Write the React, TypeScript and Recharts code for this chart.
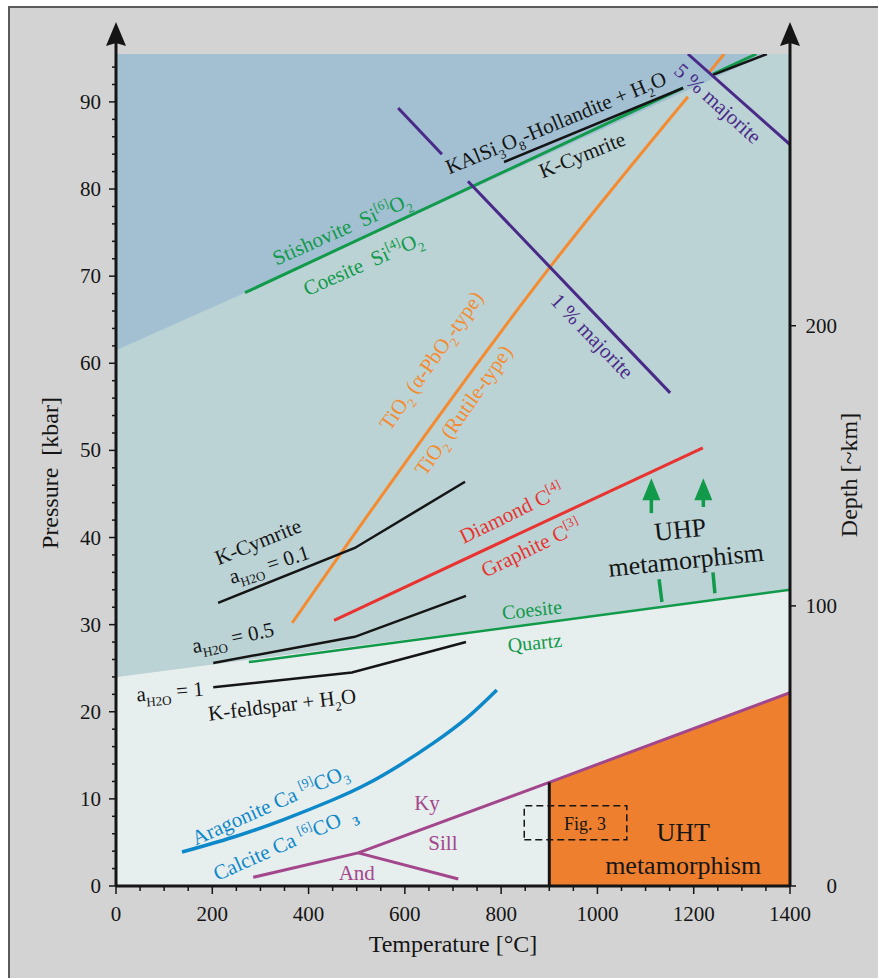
import React from "react";
import {
  ComposedChart,
  XAxis,
  YAxis,
  Line,
  Area,
  ReferenceDot,
  ReferenceLine,
  Label,
} from "recharts";

type Pt = [number, number | null];

const FONT = '"Liberation Serif", "Times New Roman", serif';

const P_TOP = 95.5; // kbar at the upper frame edge
const DEPTH_TOP = 297; // ~km at the upper frame edge

const T_TICKS = [
  0, 50, 100, 150, 200, 250, 300, 350, 400, 450, 500, 550, 600, 650, 700, 750, 800, 850, 900,
  950, 1000, 1050, 1100, 1150, 1200, 1250, 1300, 1350, 1400,
];
const P_TICKS = Array.from({ length: 48 }, (_, i) => i * 2);
const DEPTH_TICKS = [0, 100, 200];

// phase boundaries as [T °C, P kbar]; null leaves a gap where a label sits on the line
const stishoviteCoesite: Pt[] = [[268, 68.1], [1178, 91.6], [1205, null], [1240, 93.2], [1330, 95.5]];
const hollanditeCymrite: Pt[] = [[806, 83.1], [1178, 91.6], [1205, null], [1240, 93.1], [1352, 95.5]];
const tio2: Pt[] = [[366, 30.2], [575, 46.6], [901, 71.0], [1188, 90.6], [1210, null], [1234, 93.5], [1263, 95.5]];
const majorite1: Pt[] = [[586, 89.3], [677, 84.0], [700, null], [731, 80.9], [1151, 56.6]];
const majorite5: Pt[] = [[1188, 95.5], [1400, 85.1]];
const kCymrite01: Pt[] = [[212, 32.5], [496, 38.8], [725, 46.4]];
const kCymrite05: Pt[] = [[202, 25.6], [496, 28.6], [727, 33.3]];
const kCymrite1: Pt[] = [[202, 22.8], [490, 24.5], [727, 28.0]];
const coesiteQuartz: Pt[] = [[276, 25.7], [1400, 34.0]];
const diamondGraphite: Pt[] = [[453, 30.5], [1219, 50.3]];
const aragoniteCalcite: Pt[] = [
  [137, 3.9], [243, 5.6], [347, 7.6], [451, 9.9], [521, 11.7], [590, 13.9], [659, 16.4], [729, 19.3], [791, 22.5],
];
const kySill: Pt[] = [[503, 3.8], [900, 11.9], [1400, 22.2]];
const andKy: Pt[] = [[285, 1.0], [503, 3.8]];
const andSill: Pt[] = [[503, 3.8], [711, 0.8]];
const uhtLimit: Pt[] = [[900, 0], [900, 11.9]];
const fig3Box: Pt[] = [[848, 5.3], [1061, 5.3], [1061, 9.2], [848, 9.2], [848, 5.3]];

// shaded fields: [T, lower P, upper P]
const lowField: [number, number, number][] = [[0, 0, 24.0], [1400, 0, 34.0]];
const coesiteField: [number, number, number][] = [[0, 24.0, P_TOP], [1400, 34.0, P_TOP]];
const stishoviteField: [number, number, number][] = [[0, 61.5, P_TOP], [268, 68.1, P_TOP], [1352, P_TOP, P_TOP]];
const uhtField: [number, number, number][] = [[900, 0, 11.9], [1400, 0, 22.2]];

// UHP arrows: [T, tip P, tail P] and dashes below them
const uhpArrows = [[1112, 46.8, 42.8], [1220, 46.8, 43.5]];
const uhpDashes = [
  [[1128, 35.2], [1134, 32.6]],
  [[1240, 36.0], [1244, 33.6]],
];

const C = {
  blue: "#a2c0d2",
  teal: "#bbd3d5",
  light: "#e7eeee",
  frame: "#d3d3d3",
  uht: "#ee7f2e",
  green: "#119a4a",
  orange: "#f48b30",
  purple: "#4a2a88",
  red: "#e83330",
  calc: "#0d88c8",
  mag: "#a3478c",
  ink: "#151515",
};

type Part = [string, "" | "sub" | "sup" | "subb"];
type Note = { T: number; P: number; rot: number; color: string; size: number; parts: Part[] };

const notes: Note[] = [
  { T: 469, P: 75.4, rot: -24, color: C.green, size: 21, parts: [["Stishovite  Si", ""], ["[6]", "sup"], ["O", ""], ["2", "sub"]] },
  { T: 513, P: 71.4, rot: -24, color: C.green, size: 21, parts: [["Coesite  Si", ""], ["[4]", "sup"], ["O", ""], ["2", "sub"]] },
  { T: 914, P: 87.6, rot: -22.5, color: C.ink, size: 21, parts: [["KAlSi", ""], ["3", "sub"], ["O", ""], ["8", "sub"], ["-Hollandite + H", ""], ["2", "sub"], ["O", ""]] },
  { T: 968, P: 83.9, rot: -22, color: C.ink, size: 21, parts: [["K-Cymrite", ""]] },
  { T: 1250, P: 89.8, rot: 42, color: C.purple, size: 21, parts: [["5 % majorite", ""]] },
  { T: 989, P: 63.1, rot: 46, color: C.purple, size: 21, parts: [["1 % majorite", ""]] },
  { T: 655, P: 60.3, rot: -55, color: C.orange, size: 21, parts: [["TiO", ""], ["2", "sub"], [" (\u03b1-PbO", ""], ["2", "sub"], ["-type)", ""]] },
  { T: 722, P: 54.6, rot: -55, color: C.orange, size: 21, parts: [["TiO", ""], ["2", "sub"], [" (Rutile-type)", ""]] },
  { T: 295, P: 39.5, rot: -22, color: C.ink, size: 21, parts: [["K-Cymrite", ""]] },
  { T: 318, P: 36.9, rot: -18, color: C.ink, size: 21, parts: [["a", ""], ["H2O", "sub"], [" = 0.1", ""]] },
  { T: 243, P: 28.5, rot: -12, color: C.ink, size: 21, parts: [["a", ""], ["H2O", "sub"], [" = 0.5", ""]] },
  { T: 112, P: 22.3, rot: -5, color: C.ink, size: 21, parts: [["a", ""], ["H2O", "sub"], [" = 1", ""]] },
  { T: 345, P: 20.8, rot: -7, color: C.ink, size: 21, parts: [["K-feldspar + H", ""], ["2", "sub"], ["O", ""]] },
  { T: 821, P: 42.8, rot: -26, color: C.red, size: 21, parts: [["Diamond C", ""], ["[4]", "sup"]] },
  { T: 862, P: 38.8, rot: -26, color: C.red, size: 21, parts: [["Graphite C", ""], ["[3]", "sup"]] },
  { T: 864, P: 31.7, rot: -6, color: C.green, size: 20, parts: [["Coesite", ""]] },
  { T: 870, P: 27.9, rot: -6, color: C.green, size: 20, parts: [["Quartz", ""]] },
  { T: 1172, P: 40.9, rot: -6, color: C.ink, size: 26, parts: [["UHP", ""]] },
  { T: 1184, P: 37.4, rot: -6, color: C.ink, size: 26, parts: [["metamorphism", ""]] },
  { T: 320, P: 9.3, rot: -24, color: C.calc, size: 21, parts: [["Aragonite Ca ", ""], ["[9]", "sup"], ["CO", ""], ["3", "sub"]] },
  { T: 351, P: 4.9, rot: -24, color: C.calc, size: 21, parts: [["Calcite Ca ", ""], ["[6]", "sup"], ["CO  ", ""], ["3", "subb"]] },
  { T: 646, P: 9.5, rot: 0, color: C.mag, size: 21, parts: [["Ky", ""]] },
  { T: 679, P: 4.9, rot: 0, color: C.mag, size: 21, parts: [["Sill", ""]] },
  { T: 500, P: 1.5, rot: 0, color: C.mag, size: 21, parts: [["And", ""]] },
  { T: 1178, P: 6.1, rot: 0, color: C.ink, size: 26, parts: [["UHT", ""]] },
  { T: 1178, P: 2.4, rot: 0, color: C.ink, size: 26, parts: [["metamorphism", ""]] },
  { T: 974, P: 7.1, rot: 0, color: C.ink, size: 18, parts: [["Fig. 3", ""]] },
];

const pts = (a: Pt[]) => a.map(([T, P]) => ({ T, P }));
const band = (a: [number, number, number][]) => a.map(([T, lo, hi]) => ({ T, r: [lo, hi] }));

function RichText({ cx, cy, note }: { cx: number; cy: number; note: Note }) {
  const { size } = note;
  const small = Math.round(size * 0.62);
  let shift = 0;
  const spans = note.parts.map(([s, k], i) => {
    const target = k === "sub" || k === "subb" ? size * 0.28 : k === "sup" ? -size * 0.4 : 0;
    const dy = target - shift;
    shift = target;
    return (
      <tspan key={i} dy={dy} fontSize={k ? small : size} fontWeight={k === "subb" ? "bold" : undefined}>
        {s}
      </tspan>
    );
  });
  return (
    <text
      x={cx}
      y={cy + size * 0.33}
      transform={note.rot ? `rotate(${note.rot} ${cx} ${cy})` : undefined}
      textAnchor="middle"
      fill={note.color}
      fontFamily={FONT}
      style={{ whiteSpace: "pre" }}
    >
      {spans}
    </text>
  );
}

function PTick({ x, y, payload }: any) {
  const v = payload.value;
  const major = v % 10 === 0;
  return (
    <g>
      <line x1={x - (major ? 7 : 4)} x2={x} y1={y} y2={y} stroke={C.ink} strokeWidth={1.5} />
      {major && (
        <text x={x - 15} y={y + 7} textAnchor="end" fontSize={21} fontFamily={FONT} fill={C.ink}>
          {v}
        </text>
      )}
    </g>
  );
}

function TTick({ x, y, payload }: any) {
  const v = payload.value;
  const major = v % 200 === 0;
  return (
    <g>
      <line x1={x} x2={x} y1={y} y2={y + (major ? 8 : 5)} stroke={C.ink} strokeWidth={1.5} />
      {major && (
        <text x={x} y={y + 35} textAnchor="middle" fontSize={21} fontFamily={FONT} fill={C.ink}>
          {v}
        </text>
      )}
    </g>
  );
}

function DepthTick({ x, y, payload }: any) {
  return (
    <g>
      <line x1={x} x2={x + 6} y1={y} y2={y} stroke={C.ink} strokeWidth={1.5} />
      <text x={x + 47} y={y + 7} textAnchor="end" fontSize={21} fontFamily={FONT} fill={C.ink}>
        {payload.value}
      </text>
    </g>
  );
}

const axisArrow = ({ cx, cy }: any) => (
  <g>
    <line x1={cx} x2={cx} y1={cy} y2={cy - 14} stroke={C.ink} strokeWidth={3} />
    <path d={`M${cx} ${cy - 32} L${cx + 10} ${cy - 8} L${cx} ${cy - 11} L${cx - 10} ${cy - 8} Z`} fill={C.ink} />
  </g>
);

const arrowHead = ({ cx, cy }: any) => (
  <path d={`M${cx} ${cy} L${cx + 9} ${cy + 22} L${cx - 9} ${cy + 22} Z`} fill={C.green} />
);

const title = (text: string, dx: number, dy: number, rot: number, anchor: "side" | "bottom") =>
  ({ viewBox }: any) => {
    const x = anchor === "bottom" ? viewBox.x + viewBox.width / 2 + dx : viewBox.x + dx;
    const y = anchor === "bottom" ? viewBox.y + dy : viewBox.y + viewBox.height / 2 + dy;
    return (
      <text
        x={x}
        y={y}
        transform={rot ? `rotate(${rot} ${x} ${y})` : undefined}
        textAnchor="middle"
        fontSize={24}
        fontFamily={FONT}
        fill={C.ink}
        style={{ whiteSpace: "pre" }}
      >
        {text}
      </text>
    );
  };

const lines: { d: Pt[]; c: string; w?: number; dash?: string; type?: "linear" | "monotone" | "natural" }[] = [
  { d: stishoviteCoesite, c: C.green },
  { d: hollanditeCymrite, c: C.ink, w: 2.5 },
  { d: tio2, c: C.orange, type: "monotone" },
  { d: majorite1, c: C.purple },
  { d: majorite5, c: C.purple },
  { d: kCymrite01, c: C.ink, w: 2.5 },
  { d: kCymrite05, c: C.ink, w: 2.5 },
  { d: kCymrite1, c: C.ink, w: 2.5 },
  { d: coesiteQuartz, c: C.green, w: 2.5 },
  { d: diamondGraphite, c: C.red },
  { d: aragoniteCalcite, c: C.calc, w: 3.5, type: "natural" },
  { d: kySill, c: C.mag },
  { d: andKy, c: C.mag },
  { d: andSill, c: C.mag },
  { d: uhtLimit, c: C.ink },
  { d: fig3Box, c: C.ink, w: 1.5, dash: "7 4" },
];

const fields = [
  { d: lowField, c: C.light },
  { d: coesiteField, c: C.teal },
  { d: stishoviteField, c: C.blue },
  { d: uhtField, c: C.uht },
];

export default function App() {
  return (
    <div style={{ position: "absolute", left: 0, top: 0, width: 878, height: 978, background: "#fff" }}>
      <div
        style={{
          position: "absolute",
          left: 8,
          top: 6,
          width: 870,
          height: 972,
          background: C.frame,
          borderLeft: "2px solid #5a5a5a",
          borderTop: "2px solid #5a5a5a",
          boxSizing: "border-box",
        }}
      />
      <div style={{ position: "absolute", left: 0, top: 0 }}>
        <ComposedChart width={878} height={978} margin={{ top: 54, right: 28, bottom: 32, left: 56 }}>
          <XAxis
            dataKey="T"
            type="number"
            domain={[0, 1400]}
            ticks={T_TICKS}
            interval={0}
            allowDataOverflow
            height={60}
            tickSize={0}
            tickMargin={0}
            tickLine={false}
            tick={<TTick />}
            axisLine={{ stroke: C.ink, strokeWidth: 3 }}
            label={<Label content={title("Temperature [\u00b0C]", 0, 66, 0, "bottom")} />}
          />
          <YAxis
            yAxisId="p"
            type="number"
            domain={[0, P_TOP]}
            ticks={P_TICKS}
            interval={0}
            allowDataOverflow
            width={60}
            tickSize={0}
            tickMargin={0}
            tickLine={false}
            tick={<PTick />}
            axisLine={{ stroke: C.ink, strokeWidth: 3 }}
            label={<Label content={title("Pressure  [kbar]", 2, 3, -90, "side")} />}
          />
          <YAxis
            yAxisId="depth"
            orientation="right"
            type="number"
            domain={[0, DEPTH_TOP]}
            ticks={DEPTH_TICKS}
            interval={0}
            allowDataOverflow
            width={60}
            tickSize={0}
            tickMargin={0}
            tickLine={false}
            tick={<DepthTick />}
            axisLine={{ stroke: C.ink, strokeWidth: 3 }}
            label={<Label content={title("Depth [~km]", 67, 5, -90, "side")} />}
          />

          {fields.map((f, i) => (
            <Area
              key={`f${i}`}
              yAxisId="p"
              data={band(f.d)}
              dataKey="r"
              type="linear"
              fill={f.c}
              fillOpacity={1}
              stroke="none"
              isAnimationActive={false}
            />
          ))}

          {lines.map((l, i) => (
            <Line
              key={`l${i}`}
              yAxisId="p"
              data={pts(l.d)}
              dataKey="P"
              type={l.type ?? "linear"}
              stroke={l.c}
              strokeWidth={l.w ?? 3}
              strokeDasharray={l.dash}
              dot={false}
              activeDot={false}
              connectNulls={false}
              isAnimationActive={false}
            />
          ))}

          {uhpArrows.map(([T, tip, tail], i) => (
            <ReferenceLine
              key={`s${i}`}
              yAxisId="p"
              segment={[{ x: T, y: tip - 2.3 }, { x: T, y: tail }]}
              stroke={C.green}
              strokeWidth={3.5}
            />
          ))}
          {uhpDashes.map(([a, b], i) => (
            <ReferenceLine
              key={`d${i}`}
              yAxisId="p"
              segment={[{ x: a[0], y: a[1] }, { x: b[0], y: b[1] }]}
              stroke={C.green}
              strokeWidth={3.5}
            />
          ))}
          {uhpArrows.map(([T, tip], i) => (
            <ReferenceDot key={`h${i}`} yAxisId="p" x={T} y={tip} r={0} shape={arrowHead} />
          ))}

          {notes.map((n, i) => (
            <ReferenceDot
              key={`n${i}`}
              yAxisId="p"
              x={n.T}
              y={n.P}
              r={0}
              shape={(p: any) => <RichText cx={p.cx} cy={p.cy} note={n} />}
            />
          ))}

          <ReferenceDot yAxisId="p" x={0} y={P_TOP} r={0} ifOverflow="visible" shape={axisArrow} />
          <ReferenceDot yAxisId="p" x={1400} y={P_TOP} r={0} ifOverflow="visible" shape={axisArrow} />
        </ComposedChart>
      </div>
    </div>
  );
}
